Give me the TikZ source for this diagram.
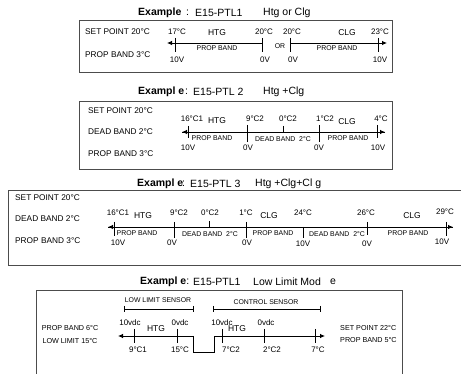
\documentclass[tikz,border=0pt]{standalone}
\usepackage{fontspec}
\setmainfont{Liberation Sans}
\usetikzlibrary{arrows.meta}
\newcommand\dgC{°C}
\begin{document}
\begin{tikzpicture}[x=1pt,y=-1pt,
 every node/.style={inner sep=0pt, font=\fontsize{8}{9}\selectfont},
 ttl/.style={font=\fontsize{10.5}{12}\selectfont, anchor=west},
 lbl/.style={anchor=west, font=\fontsize{8.3}{9}\selectfont},
 lbls/.style={anchor=west, font=\fontsize{7.2}{8}\selectfont},
 zone/.style={font=\fontsize{8.5}{10}\selectfont},
 small/.style={font=\fontsize{6.9}{8}\selectfont},
 frame/.style={draw=black!70, line width=1pt},
 axis/.style={line width=0.8pt},
 tk/.style={line width=0.8pt},
 tip/.style={line width=0.8pt, -{Latex[length=5pt,width=4.5pt]}}]
\useasboundingbox (0,0) rectangle (461,374);
\fill[white] (0,0) rectangle (461,374);

% ================= Section 1 =================
\node[ttl] (t1a) at (138,13) {\textbf{Example}};
\node[ttl] (t1b) at (186,13) {:};
\node[ttl] (t1c) at (195,13) {E15-PTL1};
\node[ttl] (t1d) at (263,13) {Htg or Clg};
\draw[frame] (79,21) rectangle (392,73);
\node[lbl] (s1sp) at (85,32) {SET POINT 20\dgC};
\node[lbl] (s1pb) at (85,55) {PROP BAND 3\dgC};
\coordinate (a1l) at (167,43);
\coordinate (a1m) at (262,43);
\coordinate (a1n) at (290,43);
\coordinate (a1r) at (387,43);
\draw[tip] (a1m) -- (a1l);
\draw[tip] (a1n) -- (a1r);
\foreach \x in {175,262,290,378} \draw[tk] (\x,38) -- (\x,52);
\node (u11) at (177,32) {17\dgC};
\node[zone] (z11) at (217,33) {HTG};
\node (u12) at (264,32) {20\dgC};
\node (u13) at (292,32) {20\dgC};
\node[zone] (z12) at (347,33) {CLG};
\node (u14) at (380,32) {23\dgC};
\node[small] (or1) at (280,46) {OR};
\node[small] (p11) at (217,48) {PROP BAND};
\node[small] (p12) at (337,48) {PROP BAND};
\node (d11) at (177,60) {10V};
\node (d12) at (265,60) {0V};
\node (d13) at (293,60) {0V};
\node (d14) at (380,60) {10V};

% ================= Section 2 =================
\node[ttl] (t2a) at (138,92) {\textbf{Exampl e}};
\node[ttl] (t2b) at (185,92) {:};
\node[ttl] (t2c) at (193,92) {E15-PTL 2};
\node[ttl] (t2d) at (263,92) {Htg +Clg};
\draw[frame] (79,102) rectangle (392,170);
\node[lbl] (s2sp) at (88,111) {SET POINT 20\dgC};
\node[lbl] (s2db) at (88,132) {DEAD BAND 2\dgC};
\node[lbl] (s2pb) at (88,154) {PROP BAND 3\dgC};
\coordinate (a2l) at (182,132);
\coordinate (a2r) at (385,132);
\draw[tip] (a2r) -- (a2l);
\draw[tip] (a2l) -- (a2r);
\draw[tk] (188,126) -- (188,138);
\draw[tk] (247,125) -- (247,142);
\draw[tk] (283,126) -- (283,132);
\draw[tk] (319,125) -- (319,142);
\draw[tk] (377,125) -- (377,138);
\node (u21) at (192,119) {16\dgC1};
\node[zone] (z21) at (217,121) {HTG};
\node (u22) at (255,119) {9\dgC2};
\node (u23) at (288,119) {0\dgC2};
\node (u24) at (325,119) {1\dgC2};
\node[zone] (z22) at (347,122) {CLG};
\node (u25) at (381,119) {4\dgC};
\node[small] (p21) at (212,138) {PROP BAND};
\node[small] (p22) at (283,139) {DEAD BAND\ \ 2\dgC};
\node[small] (p23) at (348,138) {PROP BAND};
\node (d21) at (188,148) {10V};
\node (d22) at (248,148) {0V};
\node (d23) at (319,148) {0V};
\node (d24) at (378,148) {10V};

% ================= Section 3 =================
\node[ttl] (t3a) at (137,184) {\textbf{Exampl e}};
\node[ttl] (t3b) at (182,184) {:};
\node[ttl] (t3c) at (190,184) {E15-PTL 3};
\node[ttl] (t3d) at (255,184) {Htg +Clg+Cl g};
\draw[frame] (462,191) -- (8,191) -- (8,266) -- (462,266);
\node[lbl] (s3sp) at (15,198) {SET POINT 20\dgC};
\node[lbl] (s3db) at (15,219) {DEAD BAND 2\dgC};
\node[lbl] (s3pb) at (15,241) {PROP BAND 3\dgC};
\coordinate (a3l) at (108,227);
\coordinate (a3r) at (453,227);
\draw[tip] (a3r) -- (a3l);
\draw[tip] (a3l) -- (a3r);
\draw[tk] (114,222) -- (114,236);
\draw[tk] (174,222) -- (174,238);
\draw[tk] (209,221) -- (209,227);
\draw[tk] (246,222) -- (246,238);
\draw[tk] (303,227) -- (303,238);
\draw[tk] (367,222) -- (367,235);
\draw[tk] (446,222) -- (446,236);
\node (u31) at (118,213) {16\dgC1};
\node[zone] (z31) at (143,216) {HTG};
\node (u32) at (179,213) {9\dgC2};
\node (u33) at (210,213) {0\dgC2};
\node (u34) at (246,213) {1\dgC};
\node[zone] (z32) at (269,216) {CLG};
\node (u35) at (303,213) {24\dgC};
\node (u36) at (366,213) {26\dgC};
\node[zone] (z33) at (412,216) {CLG};
\node (u37) at (445,212) {29\dgC};
\node[small] (p31) at (137,233) {PROP BAND};
\node[small] (p32) at (210,234) {DEAD BAND\ \ 2\dgC};
\node[small] (p33) at (273,233) {PROP BAND};
\node[small] (p34) at (337,234) {DEAD BAND\ \ 2\dgC};
\node[small] (p35) at (408,233) {PROP BAND};
\node (d31) at (118,243) {10V};
\node (d32) at (172,243) {0V};
\node (d33) at (247,243) {0V};
\node (d34) at (303,244) {10V};
\node (d35) at (367,244) {0V};
\node (d36) at (442,242) {10V};

% ================= Section 4 =================
\node[ttl] (t4a) at (140,282) {\textbf{Exampl e}:};
\node[ttl] (t4c) at (193,282) {E15-PTL1};
\node[ttl] (t4d) at (253,282) {Low Limit Mod};
\node[ttl] (t4e) at (330,282) {e};
\draw[frame] (36,375) -- (36,291) -- (402,291) -- (402,375);
\node[small] (ls) at (158,300) {LOW LIMIT SENSOR};
\node[small] (cs) at (266,302) {CONTROL SENSOR};
\draw[tk] (124,306) -- (124,312) (124,309) -- (193,309) (193,306) -- (193,312);
\draw[tk] (213,306) -- (213,312) (213,309) -- (320,309) (320,306) -- (320,312);
\node[lbls, anchor=center] (s4pb) at (70,328) {PROP BAND 6\dgC};
\node[lbls, anchor=center] (s4ll) at (70,341) {LOW LIMIT 15\dgC};
\node[lbls] (s4sp) at (340,328) {SET POINT 22\dgC};
\node[lbls] (s4pr) at (340,340) {PROP BAND 5\dgC};
\coordinate (a4l) at (118,336);
\coordinate (a4a) at (193,336);
\coordinate (a4b) at (193,352);
\coordinate (a4c) at (214,352);
\coordinate (a4d) at (214,336);
\coordinate (a4r) at (325,336);
\draw[tip] (a4a) -- (a4l);
\draw[axis] (a4a) -- (a4b) -- (a4c) -- (a4d);
\draw[tip] (a4d) -- (a4r);
\foreach \x in {134,177,222,264,315} \draw[tk] (\x,329) -- (\x,343);
\node (u41) at (130,323) {10vdc};
\node[zone] (z41) at (156,329) {HTG};
\node (u42) at (180,323) {0vdc};
\node (u43) at (222,323) {10vdc};
\node[zone] (z42) at (237,329) {HTG};
\node (u44) at (266,323) {0vdc};
\node (d41) at (138,350) {9\dgC1};
\node (d42) at (180,350) {15\dgC};
\node (d43) at (231,350) {7\dgC2};
\node (d44) at (272,350) {2\dgC2};
\node (d45) at (318,350) {7\dgC};
\end{tikzpicture}
\end{document}
